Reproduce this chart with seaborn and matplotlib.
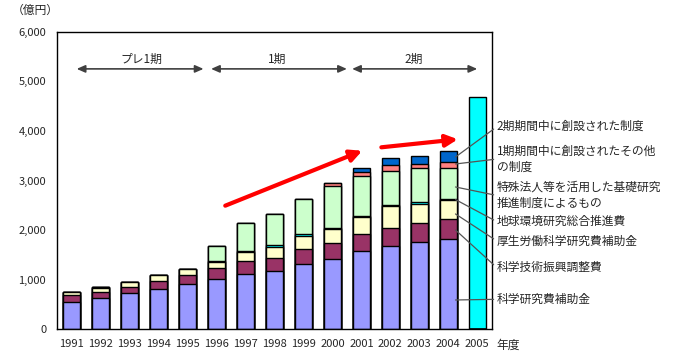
import numpy as np
import pandas as pd
import matplotlib
matplotlib.use('Agg')
import matplotlib.pyplot as plt
import seaborn as sns
from matplotlib.ticker import FuncFormatter

sns.set_style('white')
plt.rcParams['font.family'] = ['Noto Sans CJK JP', 'DejaVu Sans']

# data (億円)
years = ['1991', '1992', '1993', '1994', '1995', '1996', '1997', '1998', '1999', '2000',
         '2001', '2002', '2003', '2004', '2005']
kaken = [558, 625, 726, 806, 907, 1008, 1109, 1169, 1310, 1411, 1573, 1687, 1754, 1815, 0]
shinko = [127, 121, 121, 162, 182, 222, 262, 262, 303, 323, 342, 363, 383, 403, 0]
kosei = [60, 86, 99, 119, 119, 126, 193, 222, 262, 287, 348, 428, 383, 388, 0]
chikyu = [15, 15, 15, 15, 15, 15, 15, 45, 40, 15, 15, 18, 45, 18, 0]
tokushu = [0, 0, 0, 0, 0, 316, 571, 619, 706, 860, 820, 692, 679, 631, 0]
ichiki = [0, 0, 0, 0, 0, 0, 0, 0, 0, 61, 80, 121, 94, 115, 0]
niki = [0, 0, 0, 0, 0, 0, 0, 0, 0, 0, 81, 148, 148, 228, 0]
total2005 = [0, 0, 0, 0, 0, 0, 0, 0, 0, 0, 0, 0, 0, 0, 4677]

series_names = ['科学研究費補助金', '科学技術振興調整費', '厚生労働科学研究費補助金', '地球環境研究総合推進費',
                '特殊法人等を活用した基礎研究\n推進制度によるもの', '1期期間中に創設されたその他\nの制度',
                '2期期間中に創設された制度']
series_vals = [kaken, shinko, kosei, chikyu, tokushu, ichiki, niki]
series_cols = ['#9999FF', '#993366', '#FFFFCC', '#00FFFF', '#CCFFCC', '#FF8080', '#0066CC']

df = pd.DataFrame({'year': years})
cum = np.zeros(len(years))
cum_cols = []
for i, v in enumerate(series_vals):
    cum = cum + np.array(v)
    df['cum%d' % i] = cum
    cum_cols.append('cum%d' % i)
df['t2005'] = total2005

fig = plt.figure(figsize=(6.77, 3.56), dpi=100)
ax = fig.add_axes([0.0846, 0.075, 0.6417, 0.836])

bw = 0.59
sns.barplot(data=df, x='year', y='t2005', order=years, color='#00FFFF', width=bw,
            edgecolor='black', linewidth=1.0, saturation=1, ax=ax)
for c, col in zip(cum_cols[::-1], series_cols[::-1]):
    sns.barplot(data=df, x='year', y=c, order=years, color=col, width=bw,
                edgecolor='black', linewidth=1.0, saturation=1, ax=ax)

ax.set_xlim(-0.5, 14.5)
ax.set_ylim(0, 6000)
ax.set_yticks(range(0, 6001, 1000))
ax.yaxis.set_major_formatter(FuncFormatter(lambda v, p: '{:,.0f}'.format(v)))
ax.set_xlabel('')
ax.set_ylabel('')
ax.tick_params(axis='y', length=0, labelsize=8, pad=8)
ax.tick_params(axis='x', which='major', length=0, labelsize=8, pad=7)
ax.set_xticks(np.arange(0.5, 14.5, 1), minor=True)
ax.tick_params(axis='x', which='minor', direction='in', length=3, width=0.8)
for s in ax.spines.values():
    s.set_linewidth(1.0)
    s.set_color('black')

fig.text(0.018, 0.972, '（億円）', fontsize=8.5, va='center')
fig.text(0.733, 0.031, '年度', fontsize=8.5, va='center')

# period arrows
for x0, x1, lab, lx in [(0.17, 4.55, 'プレ1期', 2.4), (4.81, 9.5, '1期', 7.1), (9.68, 14.0, '2期', 11.8)]:
    ax.annotate('', xy=(x1, 5250), xytext=(x0, 5250),
                arrowprops=dict(arrowstyle='<|-|>,head_length=0.5,head_width=0.22', color='#404040',
                                lw=1.2, shrinkA=0, shrinkB=0))
    ax.text(lx, 5440, lab, fontsize=8.5, ha='center', va='center')

# red trend arrows
for (x0, y0), (x1, y1) in [((5.3, 2492), (10.03, 3600)), ((10.69, 3669), (13.33, 3830))]:
    ax.annotate('', xy=(x1, y1), xytext=(x0, y0),
                arrowprops=dict(arrowstyle='-|>,head_length=0.7,head_width=0.35', color='#FF0000',
                                lw=3, shrinkA=0, shrinkB=0))

# labels on the right with leader lines
lead_y = [591, 2002, 2325, 2615, 2869, 3333, 3474]
text_py = [299.3, 267.7, 241, 221.7, 195.5, 159, 126.7]
for name, ly, py in zip(series_names, lead_y, text_py):
    ax.annotate(name, xy=(13.25, ly), xycoords='data',
                xytext=(0.734, 1 - py / 356.0), textcoords='figure fraction',
                fontsize=8.5, ha='left', va='center', linespacing=1.3, annotation_clip=False,
                arrowprops=dict(arrowstyle='-', color='#555555', lw=0.9, shrinkA=0, shrinkB=0,
                                relpos=(0, 0.5)))

plt.savefig('out.png', dpi=100)
